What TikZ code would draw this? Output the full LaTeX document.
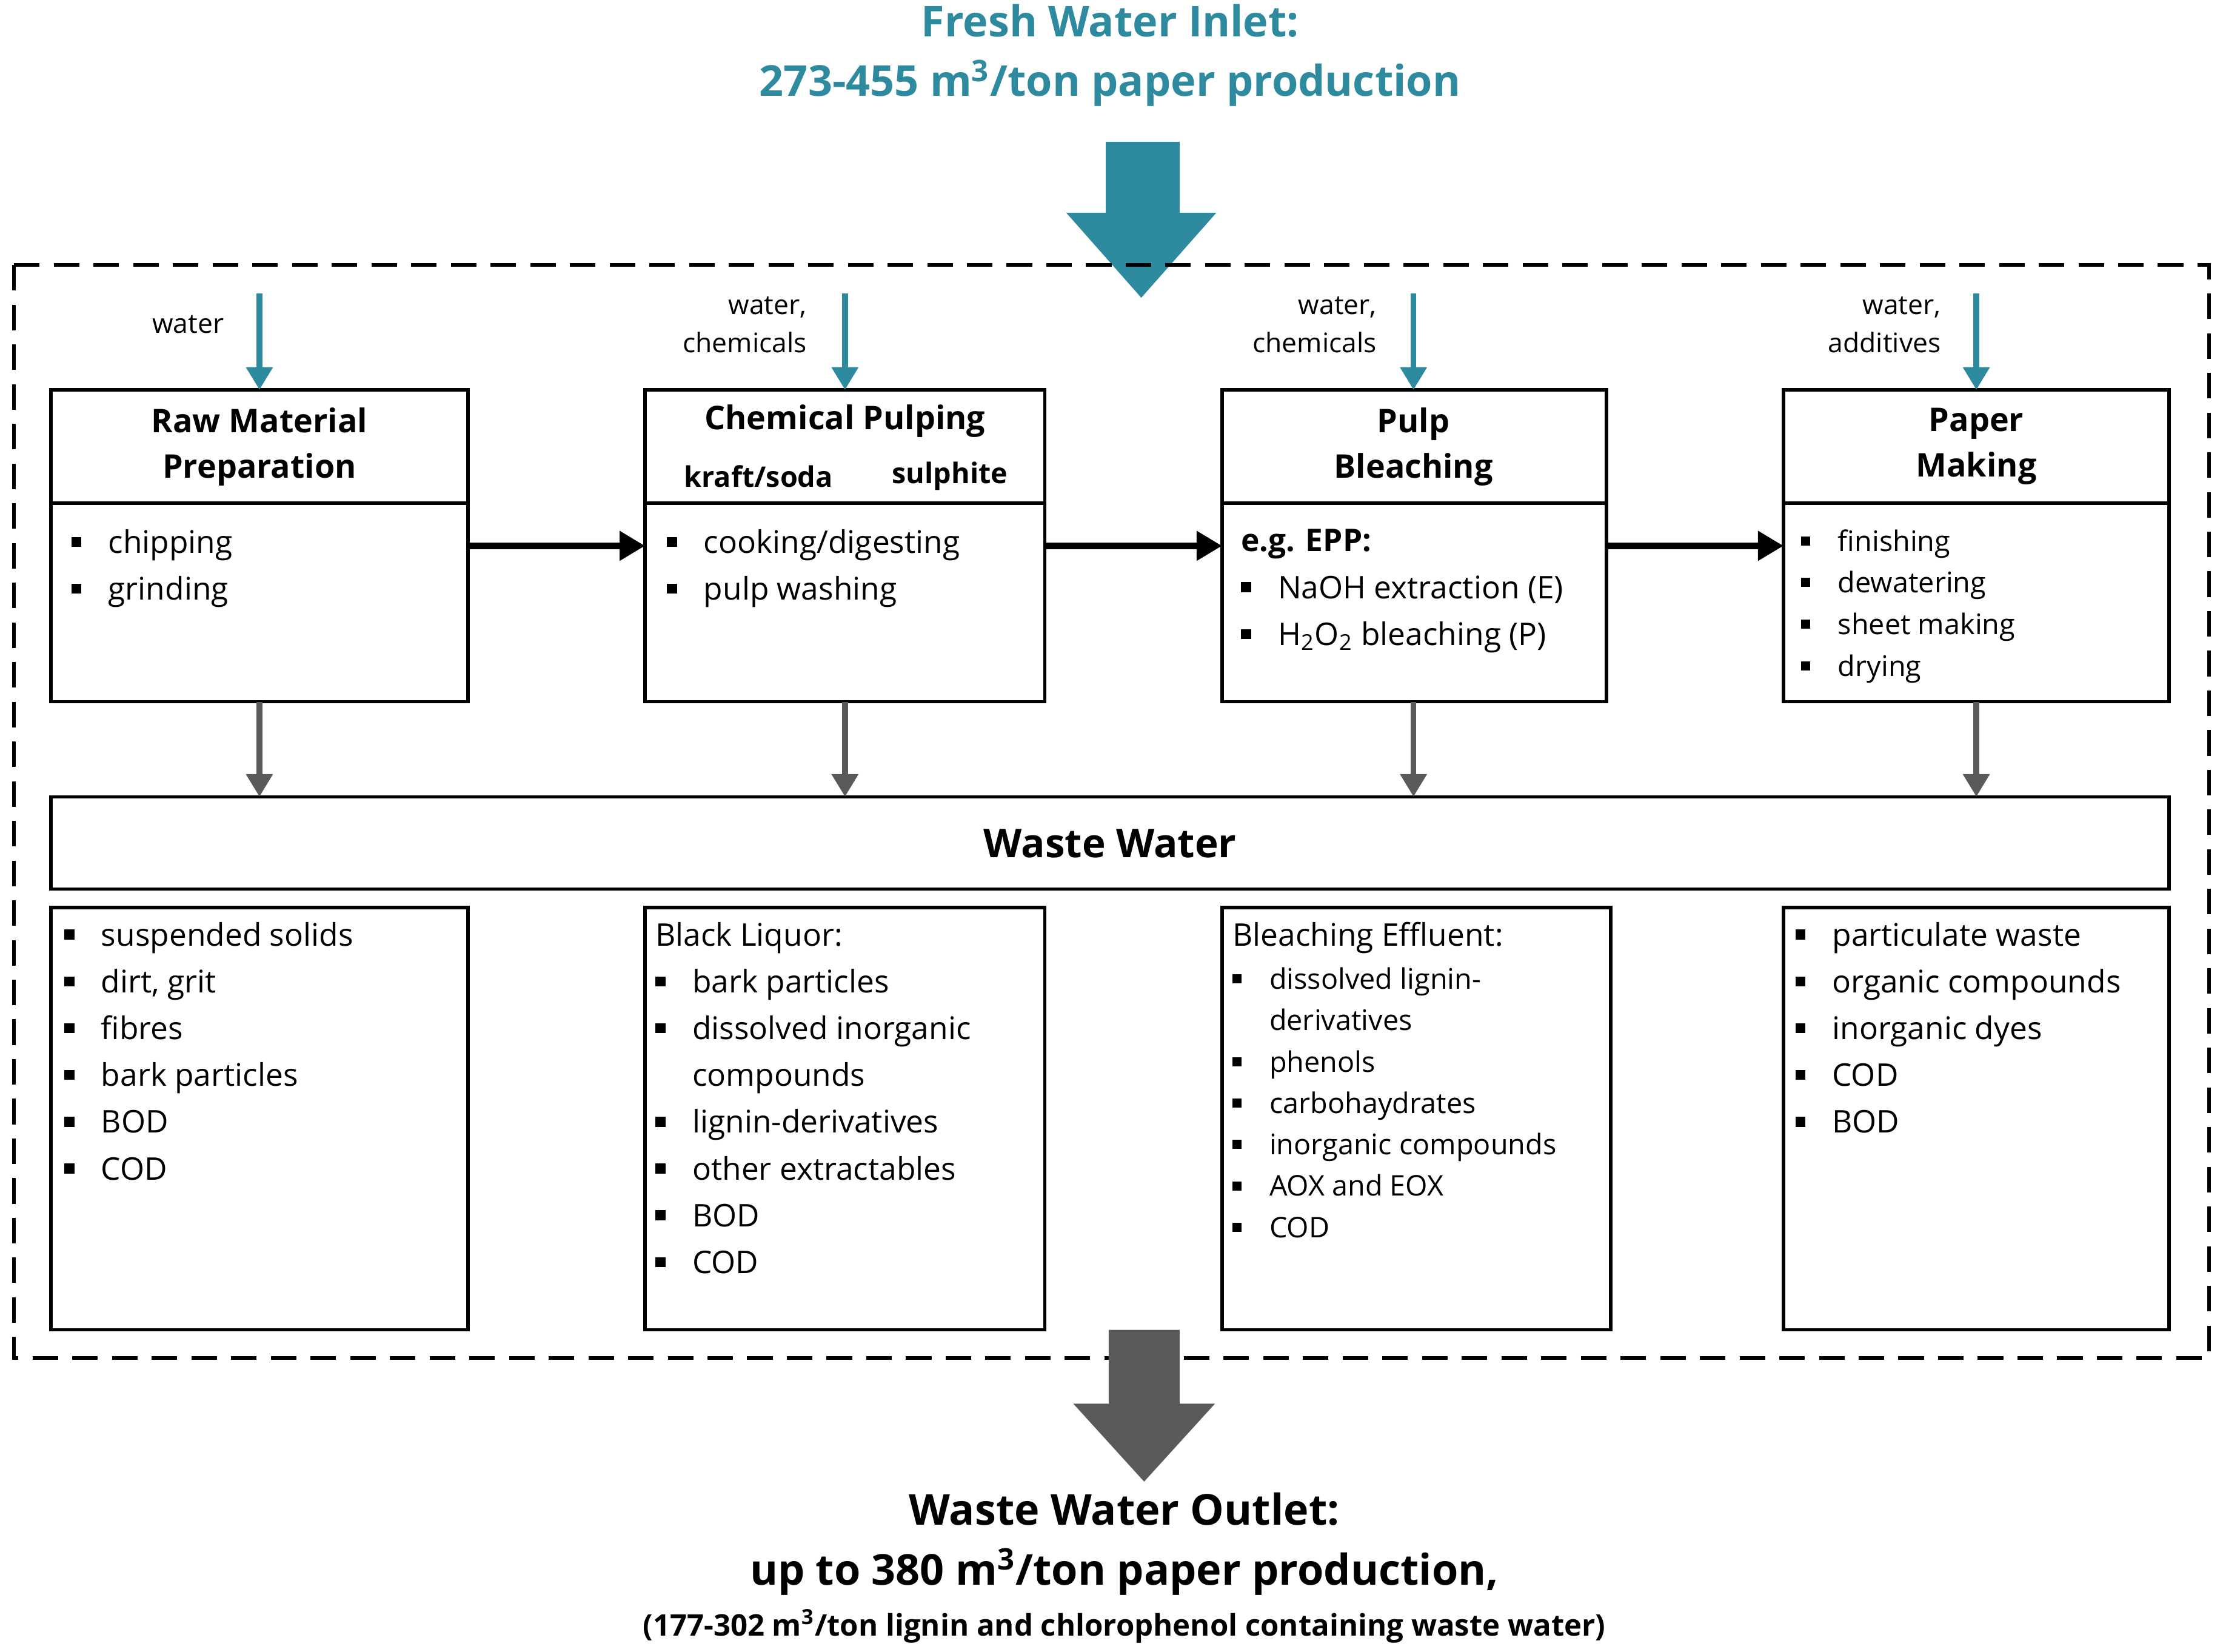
\documentclass[tikz,border=0pt]{standalone}
\usepackage{fontspec}
\setmainfont{Open Sans}
\usetikzlibrary{arrows.meta}
\begin{document}
\definecolor{teal1}{HTML}{2E8A9E}
\definecolor{gr}{HTML}{5A5A5A}
\newcommand{\bl}{\makebox[13pt][l]{\rule[0.2em]{0.32em}{0.32em}}}
\newcommand{\ind}{\hspace*{13pt}}
\begin{tikzpicture}[x=0.5pt,y=-0.5pt,
 box/.style={draw,line width=1.2pt},
 lst/.style={anchor=north west,align=left,inner sep=0pt,font=\fontsize{11}{16.5}\selectfont},
 hd/.style={align=center,font=\bfseries\fontsize{11.5}{16}\selectfont},
 sm/.style={font=\fontsize{9.5}{13.5}\selectfont,align=right,anchor=east},
 tarr/.style={teal1,line width=2pt,-{Triangle[length=8pt,width=9pt]}},
 garr/.style={gr,line width=2pt,-{Triangle[length=8pt,width=9pt]}},
 barr/.style={black,line width=2.2pt,-{Triangle[length=9pt,width=10pt]}}]
\useasboundingbox (0,0) rectangle (1568,1165);
\node[teal1,font=\bfseries\fontsize{15}{21}\selectfont,align=center] (title) at (783,39) {Fresh Water Inlet:\\273-455 m\textsuperscript{3}/ton paper production};
\fill[teal1] (780,100) -- (832,100) -- (832,150) -- (858,150) -- (805,210) -- (752,150) -- (780,150) -- cycle;
\draw[line width=1.3pt,dash pattern=on 9pt off 5pt] (10,187) rectangle (1558,958);
% boxes
\foreach \a/\b in {36/330,455/737,862/1133,1258/1530}{
 \draw[box] (\a,275) rectangle (\b,495); \draw[box] (\a,355) -- (\b,355);}
\coordinate (aR) at (330,385); \coordinate (bL) at (455,385);
\coordinate (bR) at (737,385); \coordinate (cL) at (862,385);
\coordinate (cR) at (1133,385); \coordinate (dL) at (1258,385);
\foreach \a/\b in {36/330,455/737,862/1136,1258/1530}{\draw[box] (\a,640) rectangle (\b,938);}
\draw[box] (36,562) rectangle (1530,627);
\node[font=\bfseries\fontsize{14}{18}\selectfont] (ww) at (783,595) {Waste Water};
% headers
\node[hd] (ha) at (183,315) {Raw Material\\Preparation};
\node[hd] (hb) at (596,297) {Chemical Pulping};
\node[font=\bfseries\fontsize{10}{12}\selectfont] (hb1) at (535,336) {kraft/soda};
\node[font=\bfseries\fontsize{10}{12}\selectfont] (hb2) at (670,336) {sulphite};
\node[hd] (hc) at (997,315) {Pulp\\Bleaching};
\node[hd] (hd) at (1394,315) {Paper\\Making};
% arrows
\foreach \x in {183,596,997,1394}{\draw[tarr] (\x,207) -- (\x,275); \draw[garr] (\x,495) -- (\x,562);}
\draw[barr] (aR) -- (bL); \draw[barr] (bR) -- (cL); \draw[barr] (cR) -- (dL);
\node[sm] (la) at (165,229) {water};
\node[sm] (lb) at (576,229) {water,\\chemicals};
\node[sm] (lc) at (978,229) {water,\\chemicals};
\node[sm] (ld) at (1376,229) {water,\\additives};
% body lists
\node[lst] (ba) at (50,373) {\bl chipping\\\bl grinding};
\node[lst] (bb) at (470,373) {\bl cooking/digesting\\\bl pulp washing};
\node[lst] (bc) at (875,373) {\textbf{e.g. EPP:}\\\bl NaOH extraction (E)\\\bl H\textsubscript{2}O\textsubscript{2} bleaching (P)};
\node[lst,font=\fontsize{10}{14.7}\selectfont] (bd) at (1270,373) {\bl finishing\\\bl dewatering\\\bl sheet making\\\bl drying};
% bottom lists
\node[lst] (wa) at (45,650) {\bl suspended solids\\\bl dirt, grit\\\bl fibres\\\bl bark particles\\\bl BOD\\\bl COD};
\node[lst] (wb) at (462,650) {Black Liquor:\\\bl bark particles\\\bl dissolved inorganic\\\ind compounds\\\bl lignin-derivatives\\\bl other extractables\\\bl BOD\\\bl COD};
\node[lst] (wc) at (869,650) {Bleaching Effluent:};
\node[lst,font=\fontsize{10}{14.6}\selectfont] (wc2) at (869,682) {\bl dissolved lignin-\\\ind derivatives\\\bl phenols\\\bl carbohaydrates\\\bl inorganic compounds\\\bl AOX and EOX\\\bl COD};
\node[lst] (wd) at (1266,650) {\bl particulate waste\\\bl organic compounds\\\bl inorganic dyes\\\bl COD\\\bl BOD};
% outlet
\fill[gr] (782,938) -- (832,938) -- (832,990) -- (857,990) -- (807,1045) -- (757,990) -- (782,990) -- cycle;
\node[font=\bfseries\fontsize{15}{21}\selectfont,align=center] (out) at (793,1089) {Waste Water Outlet:\\up to 380 m\textsuperscript{3}/ton paper production,};
\node[font=\bfseries\fontsize{10.5}{13}\selectfont] (out2) at (793,1147) {(177-302 m\textsuperscript{3}/ton lignin and chlorophenol containing waste water)};
\end{tikzpicture}
\end{document}
